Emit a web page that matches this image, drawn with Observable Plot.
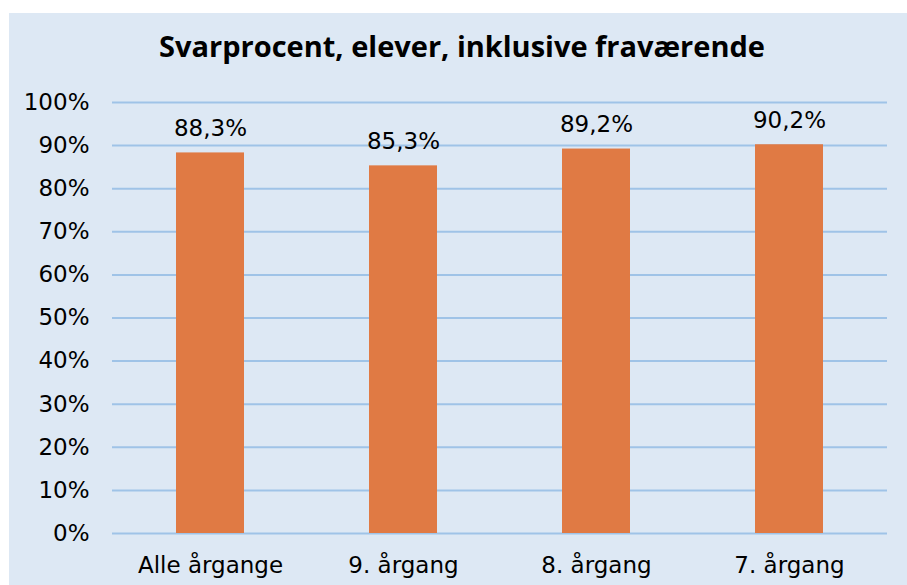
<!DOCTYPE html>
<html>
<head>
<meta charset="utf-8">
<script src="https://cdn.jsdelivr.net/npm/d3@7"></script>
<script src="https://cdn.jsdelivr.net/npm/@observablehq/plot@0.6"></script>
<style>
  html, body { margin: 0; padding: 0; background: #ffffff; }
  #frame { position: absolute; left: 9px; top: 13px; width: 898px; height: 572px; background: #dde8f4; overflow: hidden; }
  #title { position: absolute; left: 0; top: 13px; width: 100%; text-align: center; font-family: "Open Sans", sans-serif; font-weight: bold; font-size: 29px; line-height: 40px; color: #000; padding-left: 8px; box-sizing: border-box; }
  #chart { position: absolute; left: 0; top: 60px; }
</style>
</head>
<body>
<div id="frame">
  <div id="title">Svarprocent, elever, inklusive fraværende</div>
  <div id="chart"></div>
</div>
<script>
const categories = ["Alle årgange", "9. årgang", "8. årgang", "7. årgang"];
const values = [0.883, 0.853, 0.892, 0.902];
const labels = ["88,3%", "85,3%", "89,2%", "90,2%"];
const yTicks = [0, 0.1, 0.2, 0.3, 0.4, 0.5, 0.6, 0.7, 0.8, 0.9, 1.0];

const data = categories.map((c, i) => ({ category: c, value: values[i], label: labels[i] }));

const chart = Plot.plot({
  width: 898,
  height: 512,
  marginTop: 29,
  marginBottom: 52,
  marginLeft: 103,
  marginRight: 20,
  style: { fontFamily: "'DejaVu Sans', sans-serif", fontSize: "23px", background: "transparent", color: "#000" },
  x: { domain: categories, paddingInner: 0.65, paddingOuter: 0.325, label: null },
  y: { domain: [0, 1], label: null },
  marks: [
    Plot.ruleY(yTicks, { stroke: "#9fc3e7", strokeWidth: 2 }),
    Plot.barY(data, { x: "category", y: "value", fill: "#e07a44" }),
    Plot.text(data, { x: "category", y: "value", text: "label", dy: -24, fontSize: 23, fill: "#000" }),
    Plot.axisY({ ticks: yTicks, tickFormat: d => Math.round(d * 100) + "%", tickSize: 0, tickPadding: 23, fontSize: 23, label: null }),
    Plot.axisX({ tickSize: 0, tickPadding: 23, fontSize: 23, label: null })
  ]
});
document.getElementById("chart").appendChild(chart);
</script>
</body>
</html>
